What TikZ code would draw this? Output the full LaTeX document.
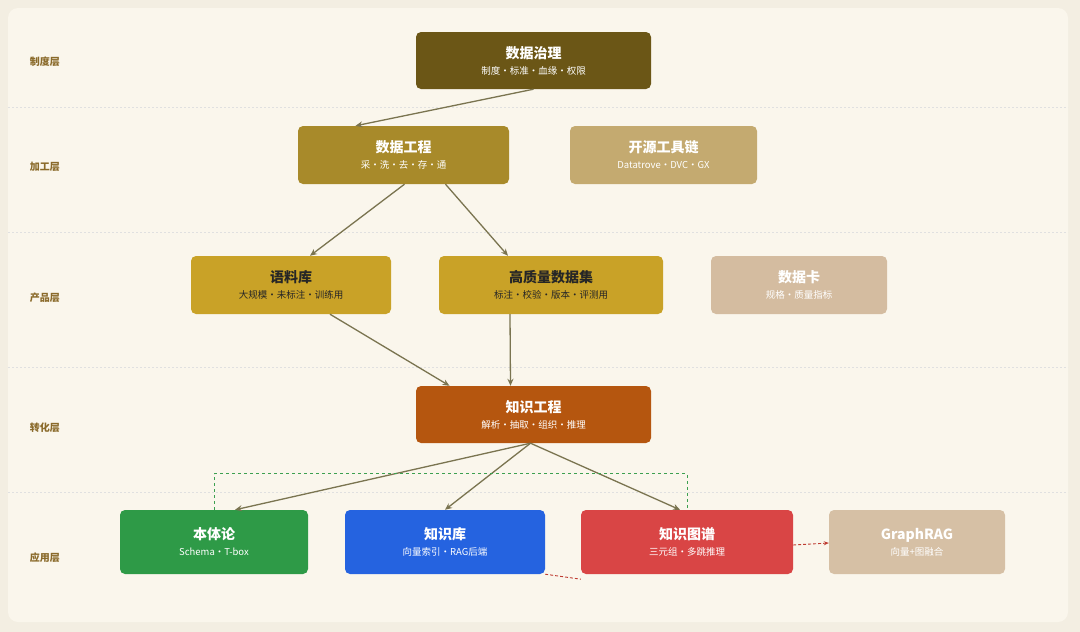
\documentclass[tikz,border=0pt]{standalone}
\usepackage{fontspec}
\setmainfont{Noto Sans CJK SC}
\usetikzlibrary{arrows.meta}
\definecolor{bgout}{HTML}{F3EEE2}
\definecolor{bgin}{HTML}{FAF6EC}
\definecolor{lyr}{HTML}{8A6A2A}
\definecolor{arr}{HTML}{7A7450}
\begin{document}
\begin{tikzpicture}[x=1pt,y=-1pt,>={Stealth[length=7pt,width=6pt]},
  box/.style={draw=none,rounded corners=5pt,align=center,text=white,inner sep=0pt},
  layer/.style={font=\bfseries\fontsize{10}{12}\selectfont,text=lyr},
  flow/.style={->,draw=arr,line width=1.3pt},
  sep/.style={dash pattern=on 2pt off 2pt,draw=black!12,line width=0.6pt}]
  \fill[bgout] (0,0) rectangle (1080,632);
  \fill[bgin,rounded corners=10pt] (8,8) rectangle (1068,622);
  \useasboundingbox (0,0) rectangle (1080,632);
  % layer separators
  \foreach \yy in {107,232,367,492} \draw[sep] (8,\yy) -- (1068,\yy);
  \node[layer] (l1) at (45,62) {制度层};
  \node[layer] (l2) at (45,167) {加工层};
  \node[layer] (l3) at (45,298) {产品层};
  \node[layer] (l4) at (45,428) {转化层};
  \node[layer] (l5) at (45,558) {应用层};
  % boxes
  \newcommand{\lbl}[2]{{\bfseries\fontsize{14}{18}\selectfont #1}\\[4pt]{\fontsize{9.5}{11}\selectfont #2}}
  \node[box,fill={rgb,255:red,107;green,86;blue,22},minimum width=235pt,minimum height=57pt] (gov) at (533.5,60.5) {\lbl{数据治理}{制度·标准·血缘·权限}};
  \node[box,fill={rgb,255:red,168;green,138;blue,42},minimum width=211pt,minimum height=58pt] (eng) at (403.5,155) {\lbl{数据工程}{采·洗·去·存·通}};
  \node[box,fill={rgb,255:red,196;green,170;blue,112},minimum width=187pt,minimum height=58pt] (tool) at (663.5,155) {\lbl{开源工具链}{Datatrove·DVC·GX}};
  \node[box,fill={rgb,255:red,201;green,162;blue,39},text=black!85,minimum width=200pt,minimum height=58pt] (corp) at (291,285) {\lbl{语料库}{大规模·未标注·训练用}};
  \node[box,fill={rgb,255:red,201;green,162;blue,39},text=black!85,minimum width=224pt,minimum height=58pt] (hq) at (551,285) {\lbl{高质量数据集}{标注·校验·版本·评测用}};
  \node[box,fill={rgb,255:red,212;green,188;blue,160},minimum width=176pt,minimum height=58pt] (card) at (799,285) {\lbl{数据卡}{规格·质量指标}};
  \node[box,fill={rgb,255:red,181;green,86;blue,15},minimum width=235pt,minimum height=57pt] (ke) at (533.5,414.5) {\lbl{知识工程}{解析·抽取·组织·推理}};
  \node[box,fill={rgb,255:red,46;green,154;blue,71},minimum width=188pt,minimum height=64pt] (onto) at (214,542) {\lbl{本体论}{Schema·T-box}};
  \node[box,fill={rgb,255:red,37;green,99;blue,224},minimum width=200pt,minimum height=64pt] (kb) at (445,542) {\lbl{知识库}{向量索引·RAG后端}};
  \node[box,fill={rgb,255:red,217;green,69;blue,69},minimum width=212pt,minimum height=64pt] (kg) at (687,542) {\lbl{知识图谱}{三元组·多跳推理}};
  \node[box,fill={rgb,255:red,214;green,192;blue,165},minimum width=176pt,minimum height=64pt] (grag) at (917,542) {\lbl{GraphRAG}{向量+图融合}};
  % flows
  \draw[flow] (gov.south) -- ([xshift=-48pt]eng.north);
  \draw[flow] ([xshift=1pt]eng.south) -- ([xshift=19pt]corp.north);
  \draw[flow] ([xshift=42pt]eng.south) -- ([xshift=-43pt]hq.north);
  \draw[flow] ([xshift=39pt]corp.south) -- ([xshift=-84pt]ke.north);
  \draw[flow] ([xshift=-41pt]hq.south) -- ([xshift=-23pt]ke.north);
  \draw[flow] ([xshift=-3pt]ke.south) -- ([xshift=21pt]onto.north);
  \draw[flow] ([xshift=-3pt]ke.south) -- (kb.north);
  \draw[flow] ([xshift=-3pt]ke.south) -- ([xshift=-7pt]kg.north);
  % cross links
  \draw[dashed,draw={rgb,255:red,60;green,160;blue,80},line width=0.8pt] (onto.north) -- ++(0,-36) -| (kg.north);
  \draw[->,densely dashed,draw={rgb,255:red,190;green,60;blue,50},line width=0.9pt,>={Stealth[length=5pt,width=4pt]}] (kg.east) ++(0,3) -- ([yshift=-1pt]grag.west);
  \draw[densely dashed,draw={rgb,255:red,190;green,60;blue,50},line width=0.9pt] (kb.south east) -- ([yshift=-5pt]kg.south west);
\end{tikzpicture}
\end{document}
